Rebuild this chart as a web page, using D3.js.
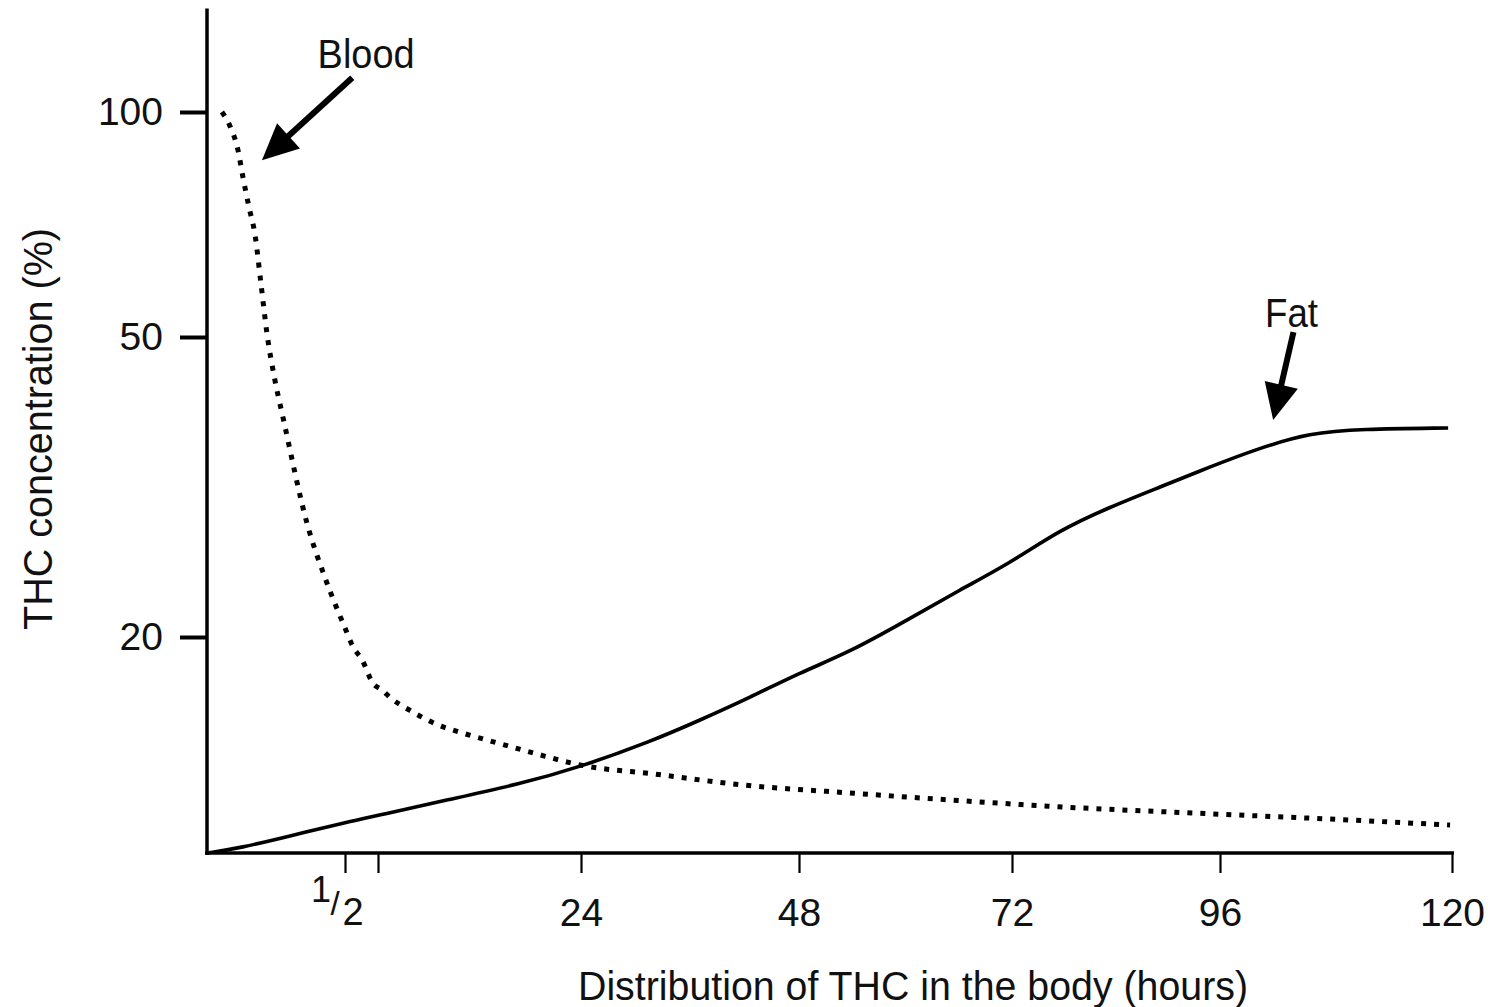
<!DOCTYPE html>
<html>
<head>
<meta charset="utf-8">
<script src="https://cdn.jsdelivr.net/npm/d3@7"></script>
<style>
  html, body { margin: 0; padding: 0; background: #fff; }
  svg { display: block; font-family: "Liberation Sans", Arial, Helvetica, sans-serif; }
</style>
</head>
<body>
<script>
// ---- Data (hours, % concentration) ----
const bloodHours = [0.054, 0.083, 0.112, 0.130, 0.152, 0.174, 0.196, 0.217, 0.246, 0.275, 0.366, 0.428, 0.5, 0.621, 0.758, 0.924, 1.45, 2.36, 4.63, 7.68, 10.6, 14.5, 18.6, 23.9, 32.1, 41.8, 53.7, 65.0, 77.9, 92.9, 107.1, 119.8];
const bloodPct   = [100, 96.9, 91.6, 85.6, 78.9, 72.7, 61.6, 50.9, 45.7, 42.0, 31.0, 25.9, 20.9, 19.1, 17.9, 15.7, 15.1, 14.4, 13.2, 11.9, 11.1, 10.2, 9.26, 8.15, 7.31, 6.30, 5.56, 4.91, 4.26, 3.70, 3.15, 2.59];

const fatHours = [0, 0.12, 0.30, 0.53, 1.23, 8.8, 17.1, 23.9, 31.6, 37.1, 42.6, 48.1, 53.7, 60.2, 66.1, 71.8, 77.5, 83.3, 89.1, 94.8, 100.1, 105.3, 110.5, 119.6];
const fatPct   = [0, 0.46, 1.57, 2.87, 3.52, 4.91, 6.39, 7.96, 10.3, 12.3, 14.4, 16.7, 18.6, 21.7, 24.7, 27.4, 30.7, 33.0, 35.0, 37.0, 38.9, 40.4, 40.8, 40.9];

// Axis ticks (the time axis and the % axis are schematic, not linear)
const xTickValues = [0.5, 1, 24, 48, 72, 96, 120];
const xTickLabels = ["", "", "24", "48", "72", "96", "120"];
const xBreaks = [0, 0.5, 1, 24, 48, 72, 96, 120];
const yTickValues = [20, 50, 100];
const yBreaks = [0, 20, 50, 100];
const yAxisTop = 123;

const xTitle = "Distribution of THC in the body (hours)";
const yTitle = "THC concentration (%)";
const seriesNames = ["Blood", "Fat"];
// annotation anchors in data units: label [h, %], arrow tail [h, %], arrow tip [h, %]
const labelAnchors = [[0.82, 109.8], [103.4, 52.2]];
const arrowTails = [[0.61, 107.6], [103.6, 51.1]];
const arrowTips = [[0.199, 89.3], [101.5, 41.7]];

// ---- Layout ----
const W = 1488, H = 1007;
const svg = d3.select("body").append("svg").attr("width", W).attr("height", H);
svg.append("rect").attr("width", W).attr("height", H).attr("fill", "#fff");

const x = d3.scaleLinear().domain(xBreaks).range([207, 345, 378, 581, 799, 1012, 1220, 1452]);
const y = d3.scaleLinear().domain(yBreaks).range([853, 637, 337, 112]);

const FONT = 39;

// Y axis
const yAxis = d3.axisLeft(y).tickValues(yTickValues).tickSize(27).tickSizeOuter(0).tickPadding(17);
const gy = svg.append("g").attr("transform", `translate(${x(0)},0)`).call(yAxis);
gy.select(".domain").remove();
gy.selectAll(".tick line").attr("stroke", "#000").attr("stroke-width", 4);
gy.selectAll(".tick text").attr("font-size", FONT).attr("fill", "#111").attr("font-family", "Liberation Sans, Arial, sans-serif");
svg.append("line").attr("x1", x(0)).attr("x2", x(0)).attr("y1", y(0) + 2).attr("y2", y(yAxisTop))
  .attr("stroke", "#000").attr("stroke-width", 3.5);

// X axis
const xAxis = d3.axisBottom(x).tickValues(xTickValues).tickSize(20).tickSizeOuter(0).tickPadding(25)
  .tickFormat((d, i) => xTickLabels[i]);
const gx = svg.append("g").attr("transform", `translate(0,${y(0)})`).call(xAxis);
gx.select(".domain").remove();
gx.selectAll(".tick line").attr("stroke", "#000").attr("stroke-width", 2.2);
gx.selectAll(".tick text").attr("font-size", FONT).attr("fill", "#111").attr("font-family", "Liberation Sans, Arial, sans-serif");
svg.append("line").attr("x1", x(0) - 2).attr("x2", x(120) + 2).attr("y1", y(0)).attr("y2", y(0))
  .attr("stroke", "#000").attr("stroke-width", 3.5);

// "1/2" label for the half-hour tick
const half = svg.append("g").attr("font-family", "Liberation Sans, Arial, sans-serif").attr("fill", "#111");
half.append("text").attr("x", x(0.5) - 24).attr("y", y(0) + 49).attr("text-anchor", "middle").attr("font-size", 36).text("1");
half.append("text").attr("x", x(0.5) - 10).attr("y", y(0) + 62).attr("text-anchor", "middle").attr("font-size", 33).text("/");
half.append("text").attr("x", x(0.5) + 8).attr("y", y(0) + 72).attr("text-anchor", "middle").attr("font-size", 38).text("2");

// Lines
const bloodLine = d3.line().x(d => x(d[0])).y(d => y(d[1])).curve(d3.curveMonotoneX);
const fatLine = d3.line().x(d => x(d[0])).y(d => y(d[1])).curve(d3.curveBasis);
const bloodData = bloodHours.map((h, i) => [h, bloodPct[i]]);
const fatData = fatHours.map((h, i) => [h, fatPct[i]]);

svg.append("path").datum(fatData).attr("d", fatLine)
  .attr("fill", "none").attr("stroke", "#000").attr("stroke-width", 3.6).attr("stroke-linejoin", "round");
svg.append("path").datum(bloodData).attr("d", bloodLine)
  .attr("fill", "none").attr("stroke", "#000").attr("stroke-width", 5).attr("stroke-dasharray", "5,8");

// Titles
svg.append("text").attr("x", 913).attr("y", 1000).attr("text-anchor", "middle")
  .attr("font-size", 40).attr("textLength", 670).attr("lengthAdjust", "spacingAndGlyphs")
  .attr("fill", "#111").text(xTitle);
svg.append("text").attr("transform", "translate(52,429) rotate(-90)").attr("text-anchor", "middle")
  .attr("font-size", 40).attr("textLength", 402).attr("lengthAdjust", "spacingAndGlyphs")
  .attr("fill", "#111").text(yTitle);

// Annotations: labels and arrows
const labelWidths = [97, 53];
seriesNames.forEach((name, i) => {
  svg.append("text").attr("x", x(labelAnchors[i][0])).attr("y", y(labelAnchors[i][1]))
    .attr("text-anchor", "middle").attr("font-size", 40)
    .attr("textLength", labelWidths[i]).attr("lengthAdjust", "spacingAndGlyphs")
    .attr("fill", "#111").text(name);
  const tx = x(arrowTails[i][0]), ty = y(arrowTails[i][1]);
  const px = x(arrowTips[i][0]), py = y(arrowTips[i][1]);
  const dx = px - tx, dy = py - ty, len = Math.hypot(dx, dy);
  const ux = dx / len, uy = dy / len;
  const headLen = 36, headHalf = 17;
  const bx = px - ux * headLen, by = py - uy * headLen;
  svg.append("line").attr("x1", tx).attr("y1", ty).attr("x2", bx + ux * 2).attr("y2", by + uy * 2)
    .attr("stroke", "#000").attr("stroke-width", 6);
  svg.append("polygon")
    .attr("points", [[px, py], [bx - uy * headHalf, by + ux * headHalf], [bx + uy * headHalf, by - ux * headHalf]].map(p => p.join(",")).join(" "))
    .attr("fill", "#000");
});
</script>
</body>
</html>
